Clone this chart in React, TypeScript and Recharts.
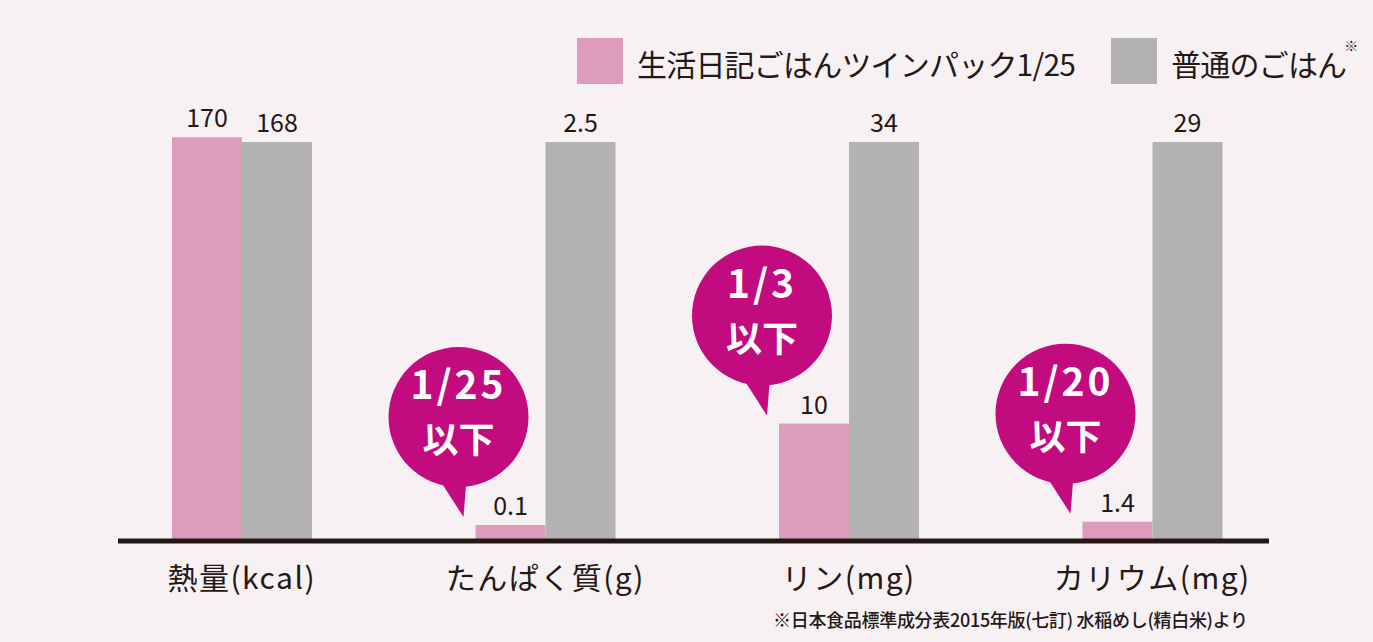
import React from 'react';
import { BarChart, Bar, XAxis, YAxis, LabelList, Legend } from 'recharts';

const categories = ['熱量(kcal)', 'たんぱく質(g)', 'リン(mg)', 'カリウム(mg)'];
const twinPackValues = [170, 0.1, 10, 1.4];
const regularRiceValues = [168, 2.5, 34, 29];
const callouts = ['', '1/25', '1/3', '1/20'];
const seriesNames = ['生活日記ごはんツインパック1/25', '普通のごはん'];
const seriesMarks = ['', '※'];
const calloutSuffix = '以下';
const footnote = '※日本食品標準成分表2015年版(七訂) 水稲めし(精白米)より';

const PINK = '#dd9bbe';
const GRAY = '#b2b2b2';
const MAGENTA = '#c20b7f';
const BG = '#f8f1f4';
const INK = '#231815';
const FONT = '"Noto Sans CJK JP", "Noto Sans", sans-serif';

const data = categories.map((c, i) => ({
  category: c,
  twinRaw: twinPackValues[i],
  regularRaw: regularRiceValues[i],
  twin: (twinPackValues[i] / regularRiceValues[i]) * 100,
  regular: 100,
  callout: callouts[i],
}));

const Bubble = (props: any) => {
  const vb = props.viewBox || {};
  const x = vb.x ?? props.x;
  const y = vb.y ?? props.y;
  const width = vb.width ?? props.width;
  const value = props.value;
  if (!value) return null;
  const cx = x + width / 2 - 52;
  const cy = y - 108;
  return (
    <g>
      <polygon
        points={`${cx - 22},${cy + 58} ${cx + 8},${cy + 62} ${cx + 5},${cy + 100}`}
        fill={MAGENTA}
      />
      <circle cx={cx} cy={cy} r={70} fill={MAGENTA} />
      <text textAnchor="middle" fill="#fff" fontWeight={700} fontFamily={FONT}>
        <tspan x={cx} y={cy - 18} fontSize={39} letterSpacing={3}>
          {value}
        </tspan>
        <tspan x={cx} y={cy + 36} fontSize={36}>
          {calloutSuffix}
        </tspan>
      </text>
    </g>
  );
};

const LegendContent = () => {
  const colors = [PINK, GRAY];
  return (
    <div style={{ display: 'flex', alignItems: 'center', fontFamily: FONT }}>
      {seriesNames.map((n, i) => (
        <div key={n} style={{ display: 'flex', alignItems: 'center', marginRight: i === 0 ? 36 : 0 }}>
          <div style={{ width: 46, height: 46, background: colors[i], marginRight: 14 }} />
          <span style={{ fontSize: 30, color: INK, position: 'relative', letterSpacing: -0.8, lineHeight: '46px', top: 2 }}>
            {n}
            {seriesMarks[i] ? (
              <span style={{ position: 'absolute', fontSize: 14, lineHeight: '14px', top: -2, left: '100%', marginLeft: -2 }}>
                {seriesMarks[i]}
              </span>
            ) : null}
          </span>
        </div>
      ))}
    </div>
  );
};

export default function App() {
  return (
    <div style={{ position: 'absolute', left: 0, top: 0, width: 1373, height: 642, background: BG, fontFamily: FONT }}>
      <BarChart
        width={1373}
        height={642}
        data={data}
        margin={{ top: 102, right: 104, bottom: 41, left: 118 }}
        barGap={0}
        barSize={70}
      >
        <YAxis hide domain={[0, 110]} />
        <XAxis
          dataKey="category"
          interval={0}
          padding={{ left: -28, right: -35 }}
          axisLine={{ stroke: INK, strokeWidth: 5 }}
          tickLine={false}
          tickSize={0}
          tickMargin={27}
          height={60}
          tick={{ fontSize: 30, fill: INK, fontFamily: FONT, letterSpacing: 1.5 }}
        />
        <Legend
          layout="horizontal"
          verticalAlign="middle"
          align="center"
          wrapperStyle={{ top: 38, left: 577, width: 800, height: 50 }}
          content={<LegendContent />}
        />
        <Bar dataKey="twin" name={seriesNames[0]} fill={PINK} isAnimationActive={false}>
          <LabelList dataKey="twinRaw" position="top" offset={10} fill={INK} fontSize={25} fontFamily={FONT} />
          <LabelList dataKey="callout" content={<Bubble />} />
        </Bar>
        <Bar dataKey="regular" name={seriesNames[1]} fill={GRAY} isAnimationActive={false}>
          <LabelList dataKey="regularRaw" position="top" offset={10} fill={INK} fontSize={25} fontFamily={FONT} />
        </Bar>
      </BarChart>
      <div
        style={{
          position: 'absolute',
          left: 773,
          top: 606,
          fontSize: 18,
          fontWeight: 500,
          color: INK,
          whiteSpace: 'nowrap',
          letterSpacing: -0.3,
        }}
      >
        {footnote}
      </div>
    </div>
  );
}
